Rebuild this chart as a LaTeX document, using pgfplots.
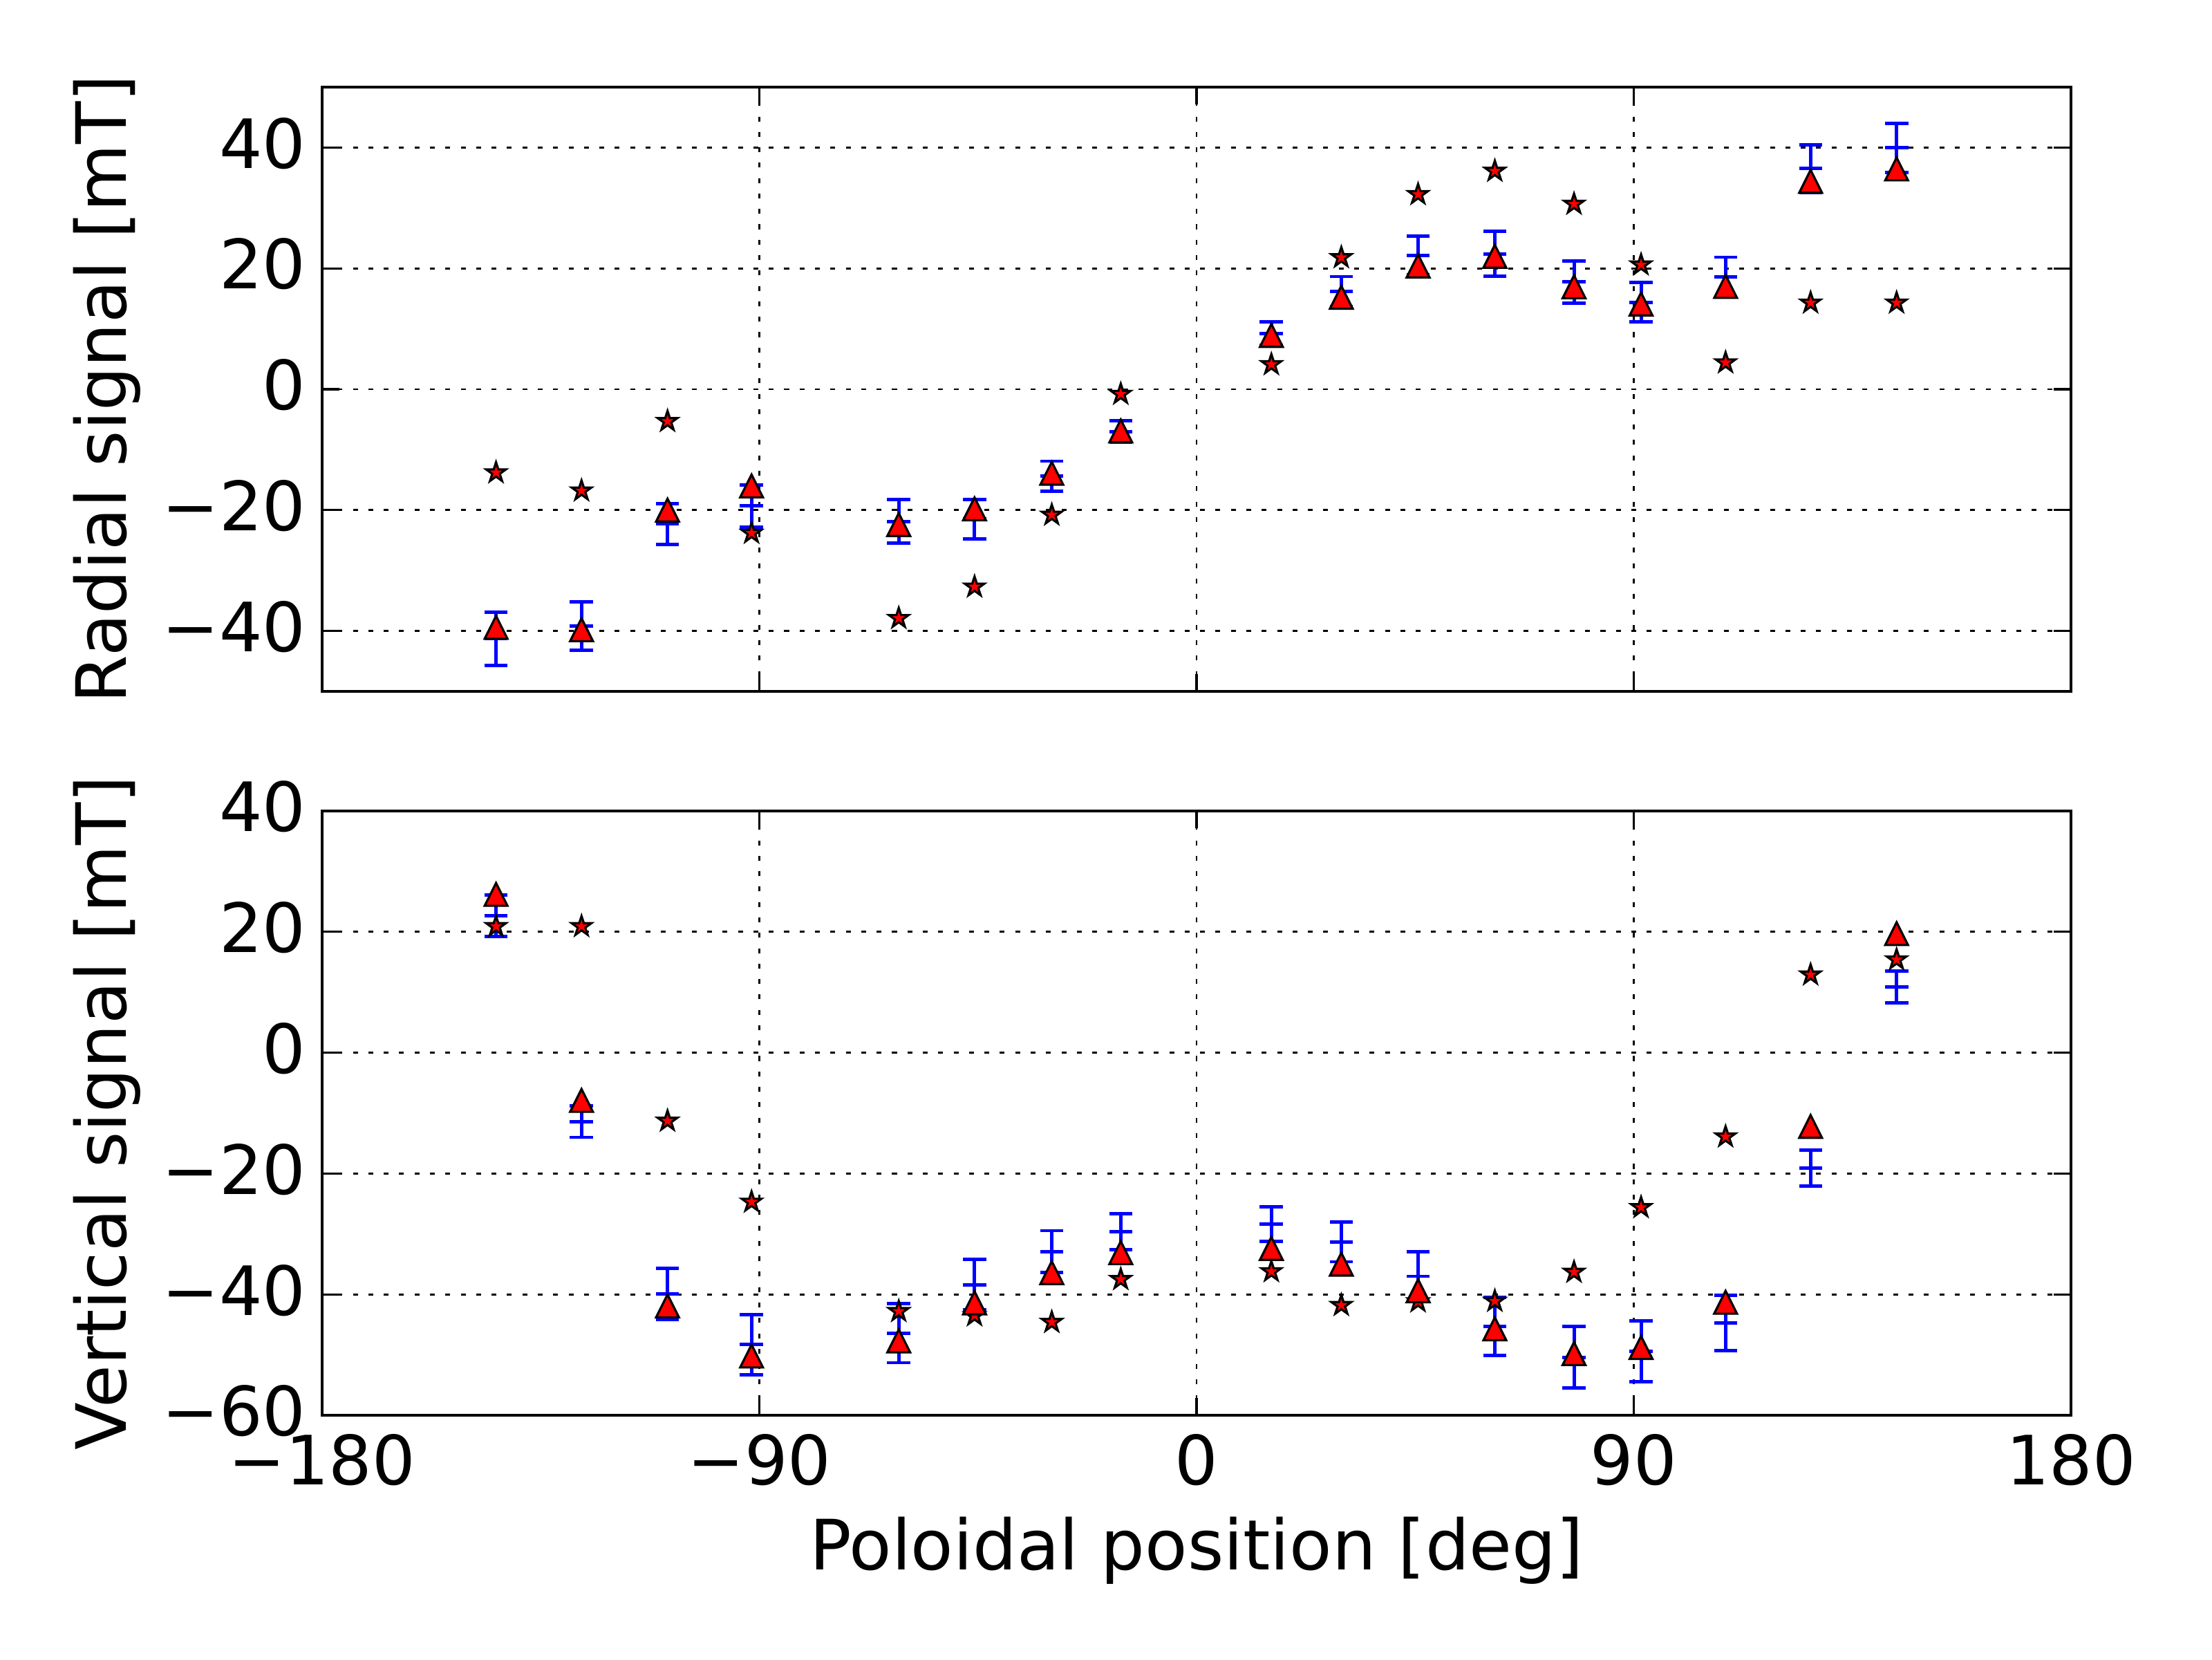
\documentclass[border=0pt]{standalone}
\usepackage{fontspec}
\setmainfont{DejaVu Sans}
\usepackage{pgfplots}
\usepackage{pgfplotstable}
\pgfplotsset{compat=1.18}

\pgfdeclareplotmark{mtri}{%
  \pgfpathmoveto{\pgfqpoint{0pt}{\pgfplotmarksize}}%
  \pgfpathlineto{\pgfqpoint{-\pgfplotmarksize}{-\pgfplotmarksize}}%
  \pgfpathlineto{\pgfqpoint{\pgfplotmarksize}{-\pgfplotmarksize}}%
  \pgfpathclose\pgfusepathqfillstroke}
\pgfdeclareplotmark{mstar}{%
  \pgfpathmoveto{\pgfpointpolar{90}{\pgfplotmarksize}}%
  \pgfpathlineto{\pgfpointpolar{126}{0.381966\pgfplotmarksize}}%
  \pgfpathlineto{\pgfpointpolar{162}{\pgfplotmarksize}}%
  \pgfpathlineto{\pgfpointpolar{198}{0.381966\pgfplotmarksize}}%
  \pgfpathlineto{\pgfpointpolar{234}{\pgfplotmarksize}}%
  \pgfpathlineto{\pgfpointpolar{270}{0.381966\pgfplotmarksize}}%
  \pgfpathlineto{\pgfpointpolar{306}{\pgfplotmarksize}}%
  \pgfpathlineto{\pgfpointpolar{342}{0.381966\pgfplotmarksize}}%
  \pgfpathlineto{\pgfpointpolar{18}{\pgfplotmarksize}}%
  \pgfpathlineto{\pgfpointpolar{54}{0.381966\pgfplotmarksize}}%
  \pgfpathclose\pgfusepathqfillstroke}

\pgfplotstableread{
x      tri    star   eb     err
-144.2 -39.4  -13.8  -41.3  4.4
-126.6 -39.8  -16.8  -39.2  4.0
-108.9 -20.0  -5.3   -22.3  3.4
-91.6  -16.0  -23.8  -19.3  3.5
-61.3  -22.4  -37.9  -21.9  3.6
-45.7  -19.8  -32.7  -21.5  3.3
-29.8  -13.9  -20.8  -14.4  2.5
-15.6  -6.9   -0.8   -7.0   1.8
15.4   8.9    4.1    9.2    1.95
29.8   15.2   21.8   16.15  2.5
45.6   20.4   32.25  22.1   3.2
61.4   22.0   36.1   22.4   3.7
77.7   16.95  30.65  17.75  3.5
91.5   14.1   20.6   14.4   3.3
108.9  17.0   4.4    18.55  3.3
126.4  34.4   14.3   36.5   3.9
144.1  36.45  14.3   39.95  4.05
}\toptab

\pgfplotstableread{
x      tri    star   eb     err
-144.2 26.2   20.9   22.7   3.45
-126.6 -7.9   20.9   -11.4  2.6
-108.9 -41.9  -11.3  -39.9  4.25
-91.6  -50.2  -24.7  -48.3  5.0
-61.3  -47.7  -42.8  -46.4  4.9
-45.7  -41.4  -43.5  -38.4  4.2
-29.8  -36.4  -44.6  -32.9  3.45
-15.6  -33.1  -37.5  -29.6  3.0
15.4   -32.4  -36.2  -28.4  2.87
29.8   -35.0  -41.8  -31.3  3.3
45.6   -39.4  -41.2  -37.0  4.05
61.4   -45.7  -41.1  -45.3  4.8
77.7   -49.8  -36.3  -50.4  5.1
91.5   -48.8  -25.6  -49.4  5.0
108.9  -41.3  -13.9  -44.7  4.6
126.4  -12.2  12.9   -19.1  3.0
144.1  19.7   15.4   10.9   2.6
}\bottab

\pgfplotsset{
  mystyle/.style={
    scale only axis, width=12.65cm, height=4.37cm,
    xmin=-180, xmax=180, xtick={-180,-90,0,90,180},
    grid=major,
    major grid style={black, line width=0.4pt, dash pattern=on 1pt off 2.17pt},
    axis line style={line width=0.6pt},
    tick style={black, line width=0.45pt},
    tick align=inside, major tick length=3.6pt,
    yticklabel style={anchor=east, inner sep=0pt, xshift=-0.11cm, yshift=0.03cm},
    ylabel style={at={(axis description cs:-0.1119,0.5)}, anchor=base, inner sep=0pt,
      font=\fontsize{14.3pt}{17pt}\selectfont},
  },
  ebstyle/.style={blue, line width=0.7pt, only marks, mark=-, mark size=0.084cm,
    mark options={line width=0.7pt, blue},
    error bars/.cd, y dir=both, y explicit, error mark=|,
    error bar style={line width=0.7pt, blue},
    error mark options={blue, line width=0.7pt, mark size=0.084cm}},
  starstyle/.style={only marks, mark=mstar, mark size=0.075cm,
    mark options={fill=red, draw=black, line width=0.45pt}},
  tristyle/.style={only marks, mark=mtri, mark size=0.0825cm,
    mark options={fill=red, draw=black, line width=0.45pt}},
}

\begin{document}
\fontsize{14pt}{17pt}\selectfont
\begin{tikzpicture}
\useasboundingbox (0,0) rectangle (16cm,12cm);
\begin{axis}[mystyle, at={(2.33cm,7.0cm)}, anchor=south west,
  ymin=-50, ymax=50, ytick={-40,-20,0,20,40},
  yticklabels={−40,−20,0,20,40},
  xticklabels={},
  ylabel={Radial signal [mT]}]
  \addplot[ebstyle] table[x=x, y=eb, y error=err] {\toptab};
  \addplot[starstyle] table[x=x, y=star] {\toptab};
  \addplot[tristyle] table[x=x, y=tri] {\toptab};
\end{axis}
\begin{axis}[mystyle, at={(2.33cm,1.765cm)}, anchor=south west,
  ymin=-60, ymax=40, ytick={-60,-40,-20,0,20,40},
  yticklabels={−60,−40,−20,0,20,40},
  xticklabels={−180,−90,0,90,180},
  xticklabel style={anchor=base, inner sep=0pt, yshift=-0.5cm},
  xlabel={Poloidal position [deg]},
  xlabel style={at={(axis description cs:0.5,-0.2552)}, anchor=base, inner sep=0pt,
    font=\fontsize{14.3pt}{17pt}\selectfont},
  ylabel={Vertical signal [mT]}]
  \addplot[ebstyle] table[x=x, y=eb, y error=err] {\bottab};
  \addplot[starstyle] table[x=x, y=star] {\bottab};
  \addplot[tristyle] table[x=x, y=tri] {\bottab};
\end{axis}
\end{tikzpicture}
\end{document}
